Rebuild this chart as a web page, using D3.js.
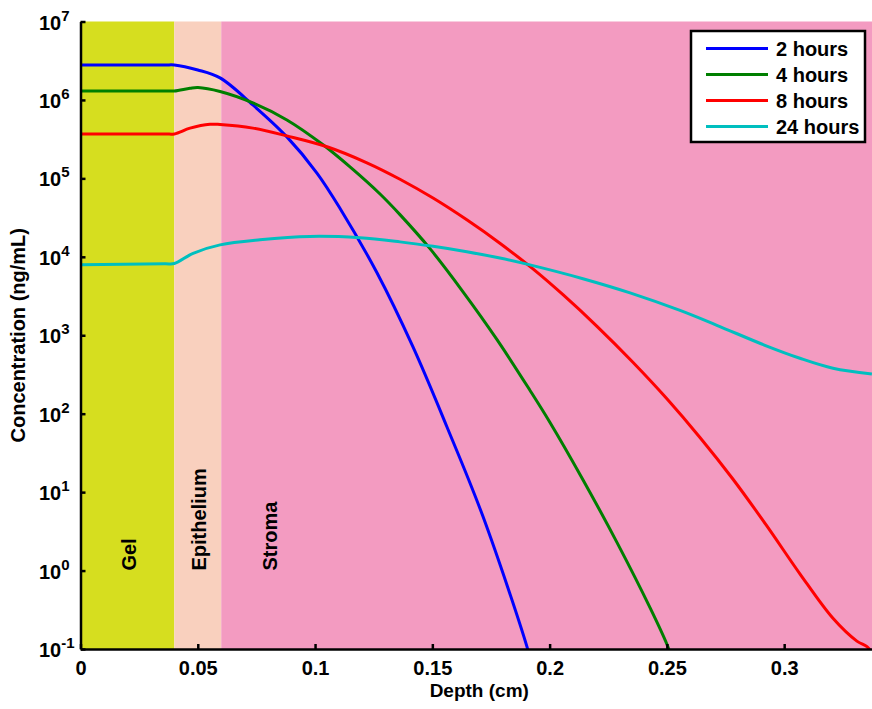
<!DOCTYPE html>
<html>
<head>
<meta charset="utf-8">
<script src="https://cdn.jsdelivr.net/npm/d3@7"></script>
<style>
  body { margin: 0; background: #fff; }
  text { font-family: 'Liberation Sans', Arial, sans-serif; font-weight: bold; }
</style>
</head>
<body>
<svg id="chart"></svg>
<script>
const width = 872;
const height = 709;

// regions of the tissue (cm)
const regionNames = ['Gel', 'Epithelium', 'Stroma'];
const regionStart = [0, 0.04, 0.06];
const regionEnd = [0.04, 0.06, 0.34];
const regionLabelAt = [0.02, 0.05, 0.08];
const regionColors = ['#D6DE1F', '#F9D0BE', '#F39BC1'];

// concentration profiles
const depth2h = [0, 0.036, 0.04, 0.05, 0.0595, 0.0735, 0.088, 0.1008, 0.1106, 0.1264, 0.1417, 0.1562, 0.1716, 0.1903, 0.1925];
const conc2h = [2.79e6, 2.79e6, 2.79e6, 2.41e6, 1.91e6, 8.63e5, 3.38e5, 1.17e5, 4.17e4, 6.25e3, 714, 68.2, 4.88, 0.108, 0.06];

const depth4h = [0, 0.036, 0.04, 0.0467, 0.0501, 0.0595, 0.0735, 0.088, 0.1034, 0.1149, 0.1277, 0.1362, 0.149, 0.163, 0.1775, 0.1916, 0.2001, 0.2142, 0.2287, 0.2428, 0.25, 0.2525];
const conc4h = [1.3e6, 1.3e6, 1.3e6, 1.41e6, 1.44e6, 1.28e6, 9.16e5, 5.56e5, 2.68e5, 1.4e5, 6.32e4, 3.45e4, 1.27e4, 3.61e3, 887, 199, 77.8, 14.4, 2.29, 0.337, 0.115, 0.07];

const depth8h = [0, 0.036, 0.04, 0.0467, 0.0552, 0.0595, 0.0735, 0.088, 0.1051, 0.1221, 0.1362, 0.1503, 0.1647, 0.1788, 0.1929, 0.2057, 0.2202, 0.2355, 0.25, 0.2641, 0.2782, 0.2926, 0.3067, 0.3208, 0.331, 0.3353, 0.3374];
const conc8h = [3.69e5, 3.69e5, 3.69e5, 4.37e5, 4.9e5, 4.86e5, 4.37e5, 3.48e5, 2.53e5, 1.58e5, 9.75e4, 5.61e4, 2.96e4, 1.49e4, 7.02e3, 3.29e3, 1.3e3, 453, 155, 49.8, 14.6, 3.71, 0.91, 0.246, 0.126, 0.107, 0.09];

const depth24h = [0, 0.036, 0.04, 0.048, 0.0595, 0.0765, 0.0978, 0.1191, 0.1362, 0.1503, 0.1647, 0.1788, 0.1916, 0.2142, 0.2343, 0.2556, 0.2713, 0.2926, 0.3067, 0.3208, 0.3374];
const conc24h = [7.9e3, 8.15e3, 8.2e3, 1.11e4, 1.42e4, 1.65e4, 1.82e4, 1.75e4, 1.55e4, 1.36e4, 1.16e4, 9.64e3, 7.89e3, 5.26e3, 3.47e3, 2.07e3, 1.34e3, 728, 509, 380, 320];

const seriesNames = ['2 hours', '4 hours', '8 hours', '24 hours'];
const seriesColors = ['#0000FF', '#007F00', '#FF0000', '#00BFBF'];

const xTicks = [0, 0.05, 0.1, 0.15, 0.2, 0.25, 0.3];
const yTicks = [1e-1, 1e0, 1e1, 1e2, 1e3, 1e4, 1e5, 1e6, 1e7];

const series = [
    {name: seriesNames[0], color: seriesColors[0], depth: depth2h, conc: conc2h},
    {name: seriesNames[1], color: seriesColors[1], depth: depth4h, conc: conc4h},
    {name: seriesNames[2], color: seriesColors[2], depth: depth8h, conc: conc8h},
    {name: seriesNames[3], color: seriesColors[3], depth: depth24h, conc: conc24h}
];

const plotLeft = 80.5, plotTop = 21.5, plotBottom = 649;

const svg = d3.select('#chart')
    .attr('width', width)
    .attr('height', height);

const x = d3.scaleLinear().domain([0, 0.34]).range([plotLeft, 878]);
const y = d3.scaleLog().domain([1e-1, 1e7]).range([plotBottom, plotTop]);

svg.append('clipPath').attr('id', 'plot-clip')
    .append('rect')
    .attr('x', plotLeft).attr('y', plotTop)
    .attr('width', x(0.34) - plotLeft).attr('height', plotBottom - plotTop);

// background bands
svg.append('g').selectAll('rect')
    .data(regionNames)
    .enter().append('rect')
    .attr('x', (d, i) => x(regionStart[i]))
    .attr('y', plotTop)
    .attr('width', (d, i) => x(regionEnd[i]) - x(regionStart[i]))
    .attr('height', plotBottom - plotTop)
    .attr('fill', (d, i) => regionColors[i]);

svg.append('g').selectAll('text')
    .data(regionNames)
    .enter().append('text')
    .attr('transform', (d, i) => `translate(${x(regionLabelAt[i]) + 1.5}, ${y(1)}) rotate(-90)`)
    .attr('dy', '0.36em')
    .attr('font-size', 20)
    .text(d => d);

// lines
const line = d3.line()
    .x(d => x(d[0]))
    .y(d => y(d[1]))
    .curve(d3.curveCatmullRom.alpha(0.5));

svg.append('g').attr('clip-path', 'url(#plot-clip)')
    .selectAll('path')
    .data(series)
    .enter().append('path')
    .attr('fill', 'none')
    .attr('stroke', d => d.color)
    .attr('stroke-width', 3)
    .attr('d', d => line(d.depth.map((v, i) => [v, d.conc[i]])));

// axes
const xAxis = svg.append('g')
    .attr('transform', `translate(0, ${plotBottom})`)
    .call(d3.axisBottom(x).tickValues(xTicks).tickSizeInner(-5).tickSizeOuter(0)
        .tickPadding(12).tickFormat(d3.format('~g')));

const yAxis = svg.append('g')
    .attr('transform', `translate(${plotLeft}, 0)`)
    .call(d3.axisLeft(y).tickValues(yTicks).tickSizeInner(-5).tickSizeOuter(0));

[xAxis, yAxis].forEach(g => {
    g.select('.domain').attr('stroke', '#000').attr('stroke-width', 2.5);
    g.selectAll('.tick line').attr('stroke', '#000').attr('stroke-width', 2.5);
    g.selectAll('.tick text').attr('font-size', 20).attr('fill', '#000');
    g.attr('font-family', null);
});

yAxis.selectAll('.tick text').each(function(d) {
    const t = d3.select(this);
    t.text(null)
        .attr('text-anchor', 'start')
        .attr('x', -41.5)
        .attr('dy', '0.38em');
    t.append('tspan').text('10');
    t.append('tspan')
        .attr('dy', -9)
        .attr('font-size', 15)
        .text(Math.round(Math.log10(d)));
});

svg.append('text')
    .attr('x', (plotLeft + 878) / 2)
    .attr('y', 697)
    .attr('text-anchor', 'middle')
    .attr('font-size', 19)
    .text('Depth (cm)');

svg.append('text')
    .attr('transform', `translate(25, ${(plotTop + plotBottom) / 2}) rotate(-90)`)
    .attr('text-anchor', 'middle')
    .attr('font-size', 20)
    .text('Concentration (ng/mL)');

// legend
const legend = svg.append('g').attr('transform', 'translate(691, 31)');
legend.append('rect')
    .attr('width', 174).attr('height', 111)
    .attr('fill', '#fff')
    .attr('stroke', '#000')
    .attr('stroke-width', 2.5);

const item = legend.selectAll('.item')
    .data(series)
    .enter().append('g')
    .attr('transform', (d, i) => `translate(0, ${17.5 + i * 26})`);
item.append('line')
    .attr('x1', 15).attr('x2', 77)
    .attr('stroke', d => d.color)
    .attr('stroke-width', 3);
item.append('text')
    .attr('x', 85)
    .attr('dy', '0.36em')
    .attr('font-size', 20)
    .text(d => d.name);
</script>
</body>
</html>
